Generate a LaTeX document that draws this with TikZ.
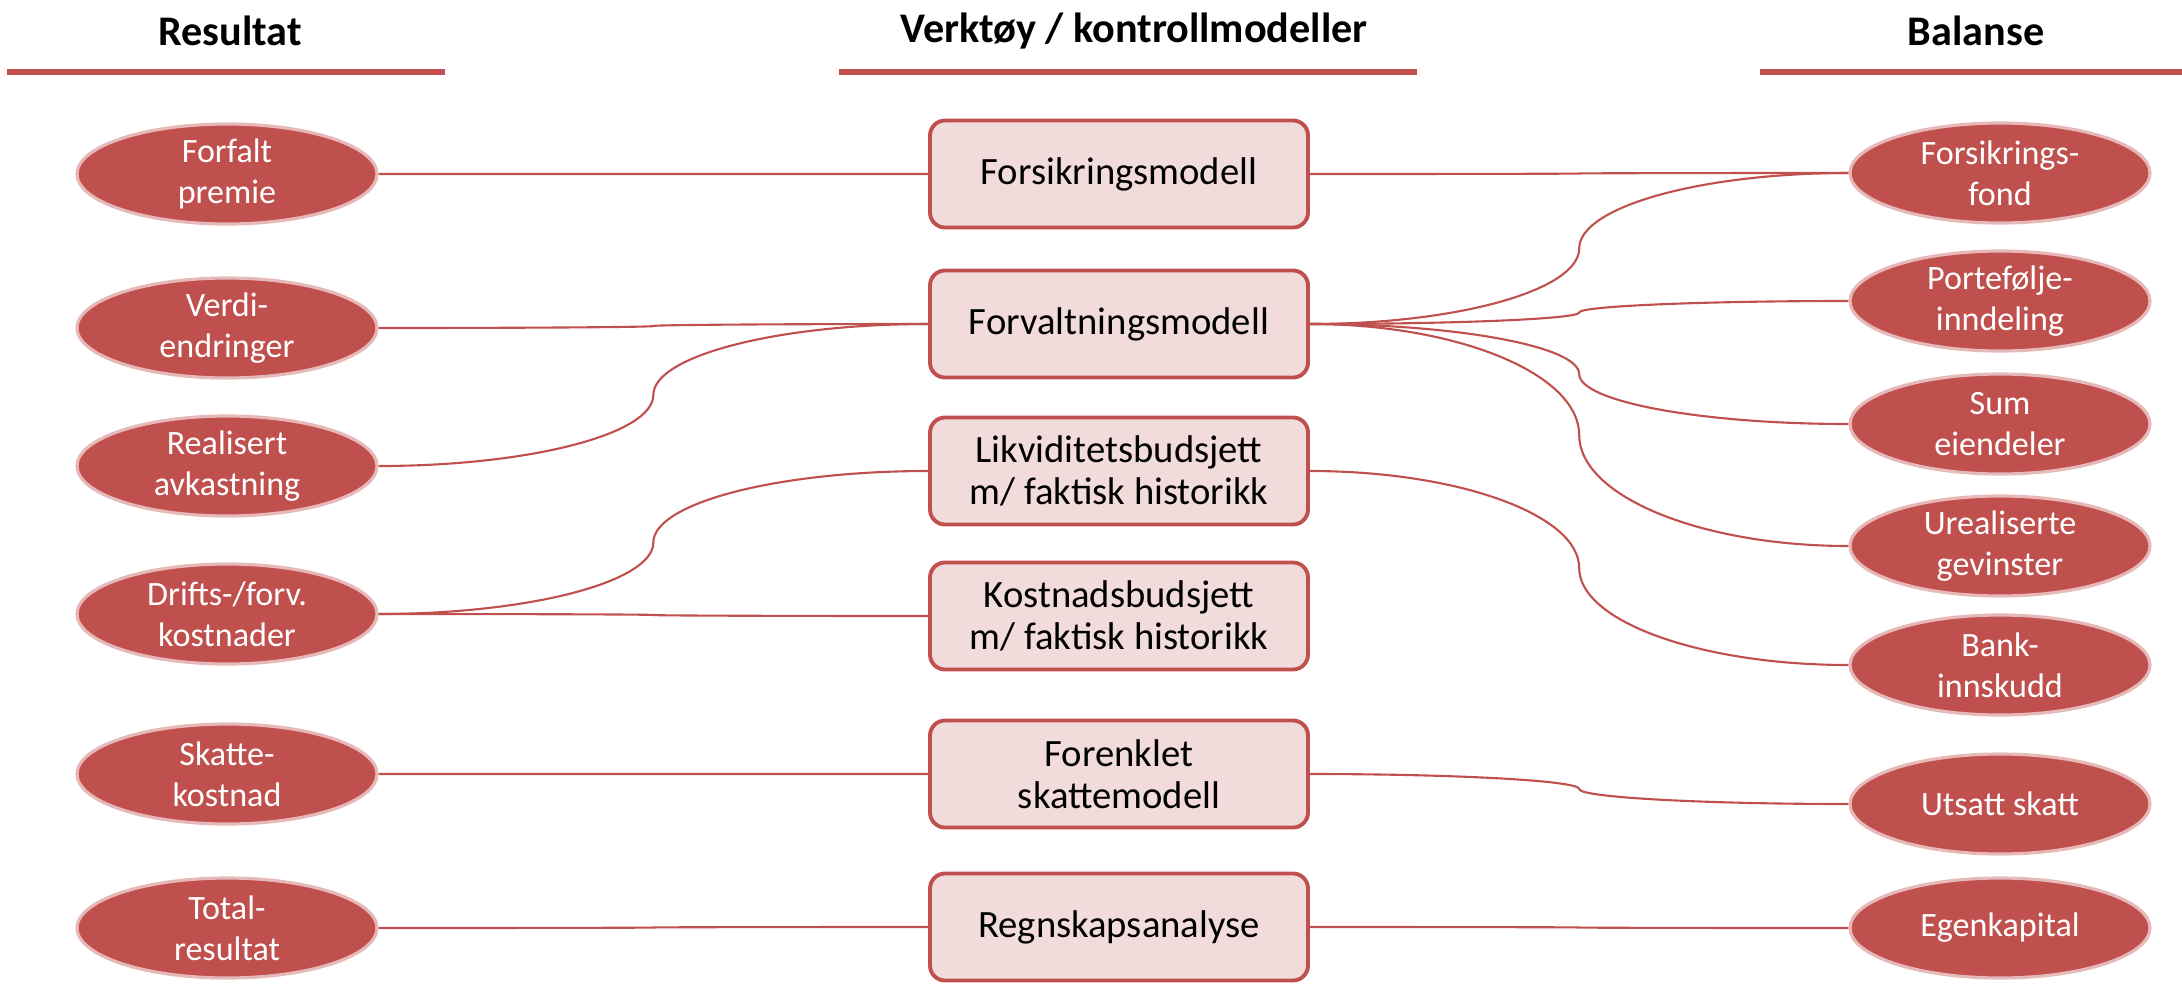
\documentclass[tikz,border=0pt]{standalone}
\usepackage{fontspec}
\setmainfont{Carlito}
\usetikzlibrary{calc,shapes.geometric}

\definecolor{accentred}{HTML}{C0504D}
\definecolor{boxpink}{HTML}{F2DCDB}
\definecolor{rimpink}{HTML}{E6B9B8}

\begin{document}
\begin{tikzpicture}[headnode/.style={font=\bfseries\fontsize{12}{14}\selectfont},
        headline/.style={draw=accentred, line width=1.7pt},
        itemnode/.style={ellipse, draw=rimpink, line width=0.9pt, fill=accentred, text=white, minimum width=3cm, minimum height=1cm, inner sep=0pt, inner ysep=-4pt, align=center, font=\fontsize{9.7}{11.6}\selectfont},
        toolnode/.style={rectangle, rounded corners=0.15cm, draw=accentred, line width=1.1pt, fill=boxpink, minimum width=3.78cm, minimum height=1.07cm, inner ysep=1pt, align=center, font=\fontsize{11}{12}\selectfont},
        link/.style={draw=accentred, line width=0.6pt},
        elbow/.style={to path={let \p1=(\tikztostart), \p2=(\tikztotarget) in
            .. controls ({0.725*\x1+0.275*\x2}, \y1) and ({0.5*\x1+0.5*\x2}, {0.775*\y1+0.225*\y2})
            .. ({0.5*\x1+0.5*\x2}, {0.5*\y1+0.5*\y2})
            .. controls ({0.5*\x1+0.5*\x2}, {0.225*\y1+0.775*\y2}) and ({0.275*\x1+0.725*\x2}, \y2)
            .. (\tikztotarget)}}]

        \useasboundingbox (0,0) rectangle (21.82,9.83);

        % headings
        \node[headnode] (resultat) at (2.30,9.52) {Resultat};
        \node[headnode] (verktoy) at (11.34,9.52) {Verktøy / kontrollmodeller};
        \node[headnode] (balanse) at (19.76,9.52) {Balanse};
        \draw[headline] (0.07,9.11) -- (4.45,9.11);
        \draw[headline] (8.39,9.11) -- (14.17,9.11);
        \draw[headline] (17.60,9.11) -- (21.82,9.11);

        % resultat
        \node[itemnode] (premie) at (2.27,8.09) {Forfalt\\premie};
        \node[itemnode] (verdi) at (2.27,6.55) {Verdi-\\endringer};
        \node[itemnode] (realisert) at (2.27,5.17) {Realisert\\avkastning};
        \node[itemnode] (drift) at (2.27,3.69) {Drifts-/forv.\\kostnader};
        \node[itemnode] (skatt) at (2.27,2.09) {Skatte-\\kostnad};
        \node[itemnode] (total) at (2.27,0.55) {Total-\\resultat};

        % verktoy
        \node[toolnode] (forsmod) at (11.19,8.09) {Forsikringsmodell};
        \node[toolnode] (forvmod) at (11.19,6.59) {Forvaltningsmodell};
        \node[toolnode] (likvid) at (11.19,5.12) {Likviditetsbudsjett\\m/ faktisk historikk};
        \node[toolnode] (kostbud) at (11.19,3.67) {Kostnadsbudsjett\\m/ faktisk historikk};
        \node[toolnode] (skattmod) at (11.19,2.09) {Forenklet\\skattemodell};
        \node[toolnode] (regnskap) at (11.19,0.56) {Regnskapsanalyse};

        % balanse
        \node[itemnode] (fond) at (20.00,8.10) {Forsikrings-\\fond};
        \node[itemnode] (portef) at (20.00,6.82) {Portefølje-\\inndeling};
        \node[itemnode] (eiendel) at (20.00,5.59) {Sum\\eiendeler};
        \node[itemnode] (gevinst) at (20.00,4.37) {Urealiserte\\gevinster};
        \node[itemnode] (bank) at (20.00,3.18) {Bank-\\innskudd};
        \node[itemnode] (utsatt) at (20.00,1.79) {Utsatt skatt};
        \node[itemnode] (egenkap) at (20.00,0.55) {Egenkapital};

        % left links
        \draw[link] (premie.east) to[elbow] (forsmod.west);
        \draw[link] (verdi.east) to[elbow] (forvmod.west);
        \draw[link] (realisert.east) to[elbow] (forvmod.west);
        \draw[link] (drift.east) to[elbow] (likvid.west);
        \draw[link] (drift.east) to[elbow] (kostbud.west);
        \draw[link] (skatt.east) to[elbow] (skattmod.west);
        \draw[link] (total.east) to[elbow] (regnskap.west);

        % right links
        \draw[link] (forsmod.east) to[elbow] (fond.west);
        \draw[link] (forvmod.east) to[elbow] (fond.west);
        \draw[link] (forvmod.east) to[elbow] (portef.west);
        \draw[link] (forvmod.east) to[elbow] (eiendel.west);
        \draw[link] (forvmod.east) to[elbow] (gevinst.west);
        \draw[link] (likvid.east) to[elbow] (bank.west);
        \draw[link] (skattmod.east) to[elbow] (utsatt.west);
        \draw[link] (regnskap.east) to[elbow] (egenkap.west);

        \end{tikzpicture}
\end{document}
